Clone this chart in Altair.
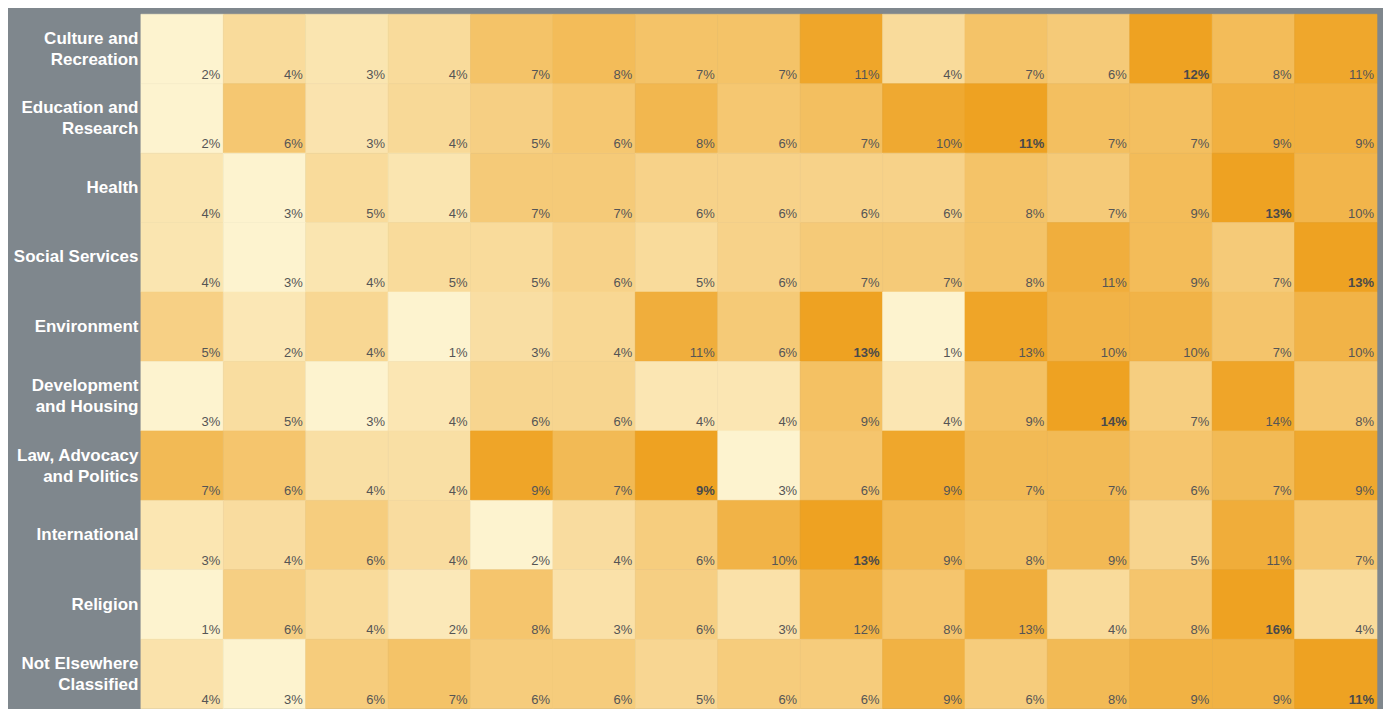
import json
import altair as alt
import pandas as pd

rows = [
    "Culture and Recreation",
    "Education and Research",
    "Health",
    "Social Services",
    "Environment",
    "Development and Housing",
    "Law, Advocacy and Politics",
    "International",
    "Religion",
    "Not Elsewhere Classified",
]
row_lines = [
    ["Culture and", "Recreation"],
    ["Education and", "Research"],
    ["Health"],
    ["Social Services"],
    ["Environment"],
    ["Development", "and Housing"],
    ["Law, Advocacy", "and Politics"],
    ["International"],
    ["Religion"],
    ["Not Elsewhere", "Classified"],
]
cols = list(range(1, 16))

v_culture = [2, 4, 3, 4, 7, 8, 7, 7, 11.4, 4, 7, 6, 12, 8, 11.2]
v_education = [2, 6, 3, 4, 5, 6, 8, 6, 7, 10, 11, 7, 7, 9, 9]
v_health = [4, 3, 5, 4, 7, 7, 6, 6, 6, 6, 8, 7, 9, 13, 10]
v_social = [4, 3, 4, 5, 5, 6, 5, 6, 7, 7, 8, 11, 9, 7, 13]
v_environment = [5, 2, 4, 1, 3, 4, 11, 6, 13.4, 1, 12.8, 10, 10, 7, 10]
v_development = [3, 5, 3, 4, 6, 6, 4, 4, 9, 4, 9, 14.3, 7, 13.7, 8]
v_law = [7, 6, 4, 4, 9.1, 7, 9.4, 3, 6, 8.9, 7, 7, 6, 7, 8.8]
v_international = [3, 4, 6, 4, 2, 4, 6, 10, 13, 9, 8, 9, 5, 11, 7]
v_religion = [1, 6, 4, 2, 8, 3, 6, 3, 12, 8, 13, 4, 8, 16, 4]
v_other = [4, 3, 6, 7, 6, 6, 5, 6, 6, 9, 6, 8, 9, 9, 11]

series = [v_culture, v_education, v_health, v_social, v_environment,
          v_development, v_law, v_international, v_religion, v_other]

records = []
for r, vals in zip(rows, series):
    for c, v in zip(cols, vals):
        records.append({"row": r, "col": c, "v": v})
df = pd.DataFrame(records)

label_map = json.dumps(dict(zip(rows, row_lines)))

base = alt.Chart(df).transform_joinaggregate(
    vmin="min(v)", vmax="max(v)", groupby=["row"]
).transform_calculate(
    t="(datum.v - datum.vmin) / (datum.vmax - datum.vmin)",
    lab="format(datum.v, '.0f') + '%'",
)

x_enc = alt.X("col:O", axis=None, scale=alt.Scale(paddingInner=0, paddingOuter=0))
y_axis = alt.Axis(
    title=None, ticks=False, domain=False, labelPadding=3,
    labelColor="white", labelFont="Liberation Sans", labelFontWeight="bold",
    labelFontSize=17, labelLineHeight=21, labelLimit=200,
    minExtent=128, maxExtent=128,
    labelExpr=label_map + "[datum.value]",
    labelOffset={"condition": {"test": "length(" + label_map + "[datum.value]) > 1",
                               "value": -10}, "value": 0},
)

color_scale = alt.Scale(domain=[0, 1], range=["#fdf3cf", "#eea222"],
                        type="pow", exponent=0.75, interpolate="rgb")

rects = base.mark_rect(strokeWidth=0.6).encode(
    x=x_enc,
    y=alt.Y("row:N", sort=rows, axis=y_axis,
            scale=alt.Scale(paddingInner=0, paddingOuter=0)),
    color=alt.Color("t:Q", legend=None, scale=color_scale),
    stroke=alt.Stroke("t:Q", legend=None, scale=color_scale),
)

text_enc = dict(
    x=alt.X("col:O", bandPosition=1, axis=None),
    y=alt.Y("row:N", sort=rows, bandPosition=1),
    text="lab:N",
)

texts_normal = base.transform_filter("datum.v != datum.vmax").mark_text(
    align="right", baseline="alphabetic", dx=-3, dy=-5,
    font="Liberation Sans", fontSize=13, color="#555555",
).encode(**text_enc)

texts_bold = base.transform_filter("datum.v == datum.vmax").mark_text(
    align="right", baseline="alphabetic", dx=-3, dy=-5,
    font="Liberation Sans", fontSize=13, color="#4a4a4a", fontWeight="bold",
).encode(**text_enc)

chart = alt.layer(rects, texts_normal, texts_bold).properties(
    width=1237, height=695,
    background="#7f878d",
    padding={"left": 5, "top": 5, "right": 5, "bottom": 5},
).configure_view(stroke=None)

chart.save("out.html", embed_options={"renderer": "svg", "actions": False})
